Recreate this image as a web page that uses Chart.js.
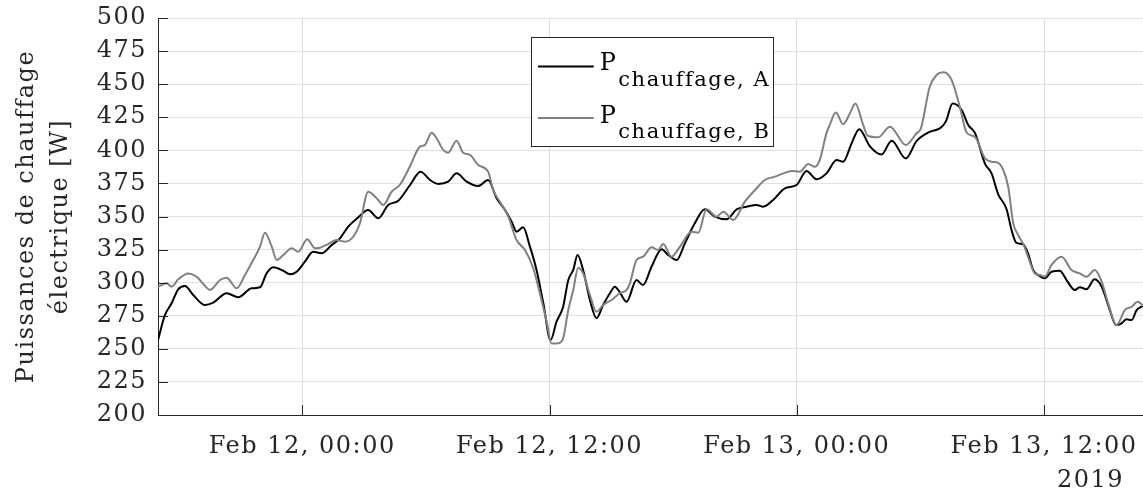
<!DOCTYPE html>
<html>
<head>
<meta charset="utf-8">
<script src="https://cdn.jsdelivr.net/npm/chart.js@4.4.1/dist/chart.umd.min.js"></script>
<style>
html,body{margin:0;padding:0;background:#ffffff;overflow:hidden}
canvas{display:block}
</style>
</head>
<body>
<canvas id="c" width="1143" height="497" style="width:1143px;height:497px"></canvas>
<script>
// Hours relative to Feb 12 2019, 00:00
const hoursA = [-7.0,-6.66,-6.34,-6.02,-5.69,-5.29,-4.72,-4.32,-3.67,-3.1,-2.46,-2.05,-1.73,-1.41,-0.92,-0.6,-0.27,0.13,0.53,0.94,1.43,1.83,2.23,2.72,3.2,3.69,4.17,4.66,5.23,5.74,6.2,6.6,7.08,7.49,7.98,8.54,9.02,9.43,9.84,10.16,10.4,10.72,11.05,11.37,11.7,12.05,12.34,12.66,12.91,13.15,13.36,13.63,13.96,14.28,14.6,14.93,15.17,15.4,15.74,16.22,16.54,16.95,17.44,17.76,18.17,18.57,19.05,19.54,20.02,20.59,21.08,21.56,22.05,22.37,22.85,23.42,23.99,24.47,24.96,25.44,25.93,26.25,26.66,27.03,27.55,28.11,28.6,29.29,29.81,30.45,30.94,31.23,31.56,32.0,32.32,32.65,33.13,33.45,33.77,34.18,34.42,34.66,34.98,35.22,35.47,35.71,36.04,36.36,36.76,37.09,37.49,37.73,38.06,38.45,38.79,39.19,39.48,39.76,40.0,40.25,40.49,40.78];
const powerA = [256.7,275.6,284.4,295,297.5,290.7,283.1,284.9,292,289,295.7,296.5,307,311.6,309,306.3,308.3,315.9,323.4,322.2,328.5,333.5,342.3,349.4,354.9,348.6,358.7,361.9,373.8,383.9,377.6,374.6,376.3,382.6,376.3,373,377.6,363.8,354.9,346.1,338.5,341.8,327.2,309.6,284.4,256.5,270.5,281.8,302,309.6,320.9,309.6,286.9,273.1,283.1,292,297,293,285.6,302,298.2,312,325.2,320.9,317.1,329.7,344.9,355.4,349.9,347.9,355.4,357.4,358.7,357.4,362.5,371.3,373.8,384.4,378.1,382.6,392.7,391.4,405.3,416,403,396.8,407.3,393.8,407,414,416.6,421.7,435.3,430.5,419.2,413,390,382.6,367,355.5,339.8,330,329,322.2,309.6,305.8,303.3,308.3,309,302,294.5,296.5,295,302.5,297,279.3,268,269.3,272.3,271.8,279.3,282.4];

const hoursB = [-7.0,-6.58,-6.34,-6.02,-5.53,-5.12,-4.8,-4.48,-3.99,-3.67,-3.18,-2.78,-2.38,-2.05,-1.81,-1.48,-1.24,-0.92,-0.51,-0.19,0.24,0.62,0.86,1.18,1.67,2.07,2.47,2.8,3.2,3.61,3.93,4.34,4.74,5.23,5.71,5.95,6.28,6.52,6.84,7.08,7.49,7.81,8.14,8.54,9.02,9.27,9.59,10.0,10.4,10.81,11.21,11.53,11.86,12.1,12.42,12.66,12.91,13.15,13.39,13.63,13.96,14.28,14.6,15.01,15.41,15.74,15.9,16.22,16.54,16.95,17.27,17.52,17.92,18.33,18.89,19.22,19.62,20.11,20.43,20.92,21.48,21.97,22.45,22.94,23.34,23.75,24.15,24.55,24.88,25.12,25.44,25.6,25.89,26.25,26.58,26.84,27.22,27.45,27.95,28.52,29.29,29.81,30.02,30.45,30.78,31.13,31.51,31.91,32.24,32.65,33.13,33.45,33.77,34.02,34.26,34.5,34.74,35.03,35.22,35.55,35.79,36.04,36.36,36.85,37.33,37.73,38.06,38.46,38.79,39.11,39.52,39.92,40.25,40.54,40.78];
const powerB = [297,299.5,297,302.5,307,304.5,299,294.5,302,303.8,295.7,305.8,317.1,327.2,337.8,327.2,317.1,320.9,326,323.4,332.8,326,326.4,328.5,332.2,331,334.7,344.9,368.7,363.8,358.7,368.7,374,388,402.8,404,413.3,409.1,400.3,398.2,407.3,398.2,396.5,388.9,383.9,370,361.2,349.9,332.2,324.7,310.9,292,270.5,254,254.2,258,279.3,294.5,311,307,290.7,278.1,283.1,286.9,292,294.5,299.5,317.1,319.6,326.7,324.7,329.2,319.6,327.2,338.5,337.8,355.4,349.9,353.6,347.4,361.2,370,377.6,380.1,382.6,384.4,383.9,389.7,387.6,393,413,419.2,428.6,419.8,428,435.3,419.2,411,409.8,417.9,404,412.9,416.5,448,456.9,459,453.2,433,413.5,410,394,391.4,390.5,385.1,372.5,345,336,328,319.6,307,305.8,304.5,313.4,319.6,309.6,307,304.5,309.6,301,284.4,268,279.3,281.8,285.6,283];

const xTickHours = [0, 12, 24, 36];
const xTickLabels = ['Feb 12, 00:00', 'Feb 12, 12:00', 'Feb 13, 00:00', 'Feb 13, 12:00'];
const yearLabel = '2019';
const xRange = [-7, 40.8];
const yRange = [200, 500];
const yStep = 25;
const yTitle = ['Puissances de chauffage', 'électrique [W]'];
const legendMain = 'P';
const legendSubs = ['chauffage, A', 'chauffage, B'];

const FONT = 'DejaVu Serif';
const TXT = '#262626';
const SPACING = '1.5px';
const colors = ['#000000', '#808080'];

const pts = (hs, vs) => hs.map((h, i) => ({x: h, y: vs[i]}));

const spacing = {
  id: 'spacing',
  beforeUpdate(chart) { chart.ctx.letterSpacing = SPACING; },
  beforeDraw(chart) { chart.ctx.letterSpacing = SPACING; }
};

const overlay = {
  id: 'overlay',
  afterDraw(chart) {
    const {ctx, chartArea: ca, scales: {x, y}} = chart;
    ctx.save();
    // inner tick marks
    ctx.strokeStyle = TXT;
    ctx.lineWidth = 1;
    ctx.beginPath();
    y.ticks.forEach(t => {
      const py = Math.round(y.getPixelForValue(t.value)) + 0.5;
      ctx.moveTo(ca.left, py); ctx.lineTo(ca.left + 10, py);
    });
    x.ticks.forEach(t => {
      const px = Math.round(x.getPixelForValue(t.value)) + 0.5;
      ctx.moveTo(px, ca.bottom); ctx.lineTo(px, ca.bottom - 10);
    });
    ctx.stroke();

    // year label under last tick
    ctx.letterSpacing = SPACING;
    ctx.fillStyle = TXT;
    ctx.font = '24px "' + FONT + '"';
    ctx.textAlign = 'right';
    ctx.textBaseline = 'middle';
    ctx.fillText(yearLabel, ca.right - 19, ca.bottom + 66);

    // legend box
    const bx = ca.left + 373.4, by = ca.top + 19, bw = 242.3, bh = 109.4;
    ctx.fillStyle = '#ffffff';
    ctx.fillRect(bx, by, bw, bh);
    ctx.strokeStyle = TXT;
    ctx.lineWidth = 1;
    ctx.strokeRect(Math.round(bx) + 0.5, Math.round(by) + 0.5, Math.round(bw), Math.round(bh));
    const rows = [{ly: 29.4, pb: 33.4, sb: 48.7}, {ly: 81, pb: 86, sb: 100.7}];
    rows.forEach((r, i) => {
      ctx.strokeStyle = colors[i];
      ctx.lineWidth = 2;
      ctx.beginPath();
      ctx.moveTo(bx + 6.6, by + r.ly);
      ctx.lineTo(bx + 62.3, by + r.ly);
      ctx.stroke();
      ctx.fillStyle = '#000000';
      ctx.textAlign = 'left';
      ctx.textBaseline = 'alphabetic';
      ctx.font = '24px "' + FONT + '"';
      const px = bx + 68.3;
      ctx.fillText(legendMain, px, by + r.pb);
      const pw = ctx.measureText(legendMain).width;
      ctx.font = '21px "' + FONT + '"';
      ctx.fillText(legendSubs[i], px + pw + 1, by + r.sb);
    });
    ctx.restore();
  }
};

new Chart(document.getElementById('c'), {
  type: 'line',
  data: {
    datasets: [
      {label: legendMain + legendSubs[0], data: pts(hoursA, powerA), borderColor: colors[0], borderWidth: 2, pointRadius: 0, fill: false, cubicInterpolationMode: 'monotone', order: 1},
      {label: legendMain + legendSubs[1], data: pts(hoursB, powerB), borderColor: colors[1], borderWidth: 2, pointRadius: 0, fill: false, cubicInterpolationMode: 'monotone', order: 0}
    ]
  },
  options: {
    responsive: false,
    devicePixelRatio: 1,
    animation: false,
    layout: {padding: {top: 18, right: 0, left: 0, bottom: 0}},
    plugins: {legend: {display: false}, tooltip: {enabled: false}},
    scales: {
      x: {
        type: 'linear',
        min: xRange[0], max: xRange[1],
        afterBuildTicks: s => { s.ticks = xTickHours.map(v => ({value: v})); },
        afterFit: s => { s.height = 82; s.paddingLeft = 0; s.paddingRight = 0; },
        grid: {color: '#dcdcdc', lineWidth: 1, drawTicks: false},
        border: {display: true, color: TXT, width: 1},
        ticks: {
          autoSkip: false, maxRotation: 0, minRotation: 0, padding: 17,
          color: TXT, font: {family: FONT, size: 24},
          callback: (v, i) => xTickLabels[i]
        }
      },
      y: {
        type: 'linear',
        min: yRange[0], max: yRange[1],
        afterFit: s => { s.width = 158; s.paddingTop = 0; s.paddingBottom = 0; },
        grid: {color: '#e1e1e1', lineWidth: 1, drawTicks: false},
        border: {display: true, color: TXT, width: 1},
        ticks: {stepSize: yStep, padding: 11, color: TXT, font: {family: FONT, size: 24}},
        title: {
          display: true, text: yTitle, color: TXT,
          font: {family: FONT, size: 24, lineHeight: 1.45},
          padding: {top: 9, bottom: 0}
        }
      }
    }
  },
  plugins: [spacing, overlay]
});
</script>
</body>
</html>
